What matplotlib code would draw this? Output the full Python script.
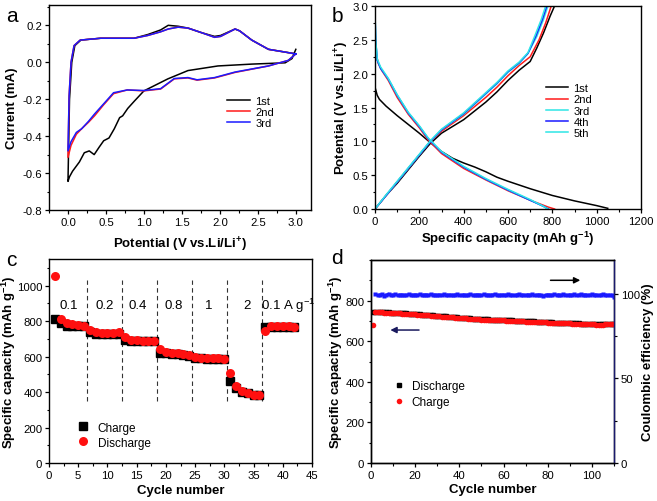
import numpy as np
import matplotlib
matplotlib.use("Agg")
import matplotlib.pyplot as plt
from matplotlib.ticker import MultipleLocator, FormatStrFormatter

plt.rcParams["font.family"] = ["Liberation Sans", "DejaVu Sans"]
plt.rcParams["mathtext.fontset"] = "custom"
plt.rcParams["mathtext.rm"] = "Liberation Sans"
plt.rcParams["mathtext.bf"] = "Liberation Sans:bold"
plt.rcParams["axes.linewidth"] = 1.0

# ---------------- panel a: CV curves ----------------
cv1_down_E = [3.0, 2.95, 2.86, 2.42, 1.975, 1.58, 1.315, 1.0, 0.875, 0.787, 0.72, 0.68, 0.61,
              0.54, 0.47, 0.41, 0.345, 0.28, 0.215, 0.15, 0.06, 0.02, 0.0]
cv1_down_I = [0.07, 0.02, -0.003, -0.01, -0.02, -0.045, -0.09, -0.155, -0.21, -0.25, -0.29, -0.30, -0.36,
              -0.41, -0.425, -0.46, -0.50, -0.48, -0.49, -0.54, -0.59, -0.62, -0.645]
cv1_up_E = [0.0, 0.02, 0.05, 0.09, 0.17, 0.43, 0.87, 1.05, 1.22, 1.32, 1.45, 1.58, 1.76, 1.93,
            2.01, 2.2, 2.26, 2.42, 2.64, 2.86, 3.0]
cv1_up_I = [-0.645, -0.2, 0.0, 0.09, 0.12, 0.13, 0.13, 0.15, 0.175, 0.2, 0.195, 0.185, 0.16, 0.14,
            0.145, 0.18, 0.17, 0.12, 0.07, 0.055, 0.045]

cv2_down_E = [3.0, 2.9, 2.64, 2.2, 1.93, 1.7, 1.58, 1.4, 1.22, 1.0, 0.78, 0.6, 0.47, 0.35, 0.27,
              0.18, 0.11, 0.04, 0.0]
cv2_down_I = [0.045, 0.01, -0.02, -0.055, -0.085, -0.097, -0.085, -0.09, -0.145, -0.155, -0.15,
              -0.17, -0.23, -0.29, -0.325, -0.36, -0.39, -0.45, -0.515]
cv2_up_E = [0.0, 0.015, 0.04, 0.08, 0.16, 0.43, 0.87, 1.05, 1.22, 1.32, 1.45, 1.58, 1.76, 1.93,
            2.01, 2.2, 2.26, 2.42, 2.64, 2.86, 3.0]
cv2_up_I = [-0.515, -0.18, 0.0, 0.09, 0.12, 0.13, 0.13, 0.145, 0.165, 0.18, 0.19, 0.185, 0.16, 0.135,
            0.14, 0.18, 0.17, 0.12, 0.07, 0.055, 0.045]

cv3_down_E = [3.0, 2.9, 2.64, 2.2, 1.93, 1.7, 1.58, 1.4, 1.22, 1.0, 0.78, 0.6, 0.47, 0.35, 0.27,
              0.18, 0.11, 0.04, 0.0]
cv3_down_I = [0.045, 0.01, -0.02, -0.053, -0.083, -0.095, -0.083, -0.088, -0.143, -0.153, -0.15,
              -0.165, -0.225, -0.28, -0.32, -0.36, -0.38, -0.43, -0.48]
cv3_up_E = [0.0, 0.015, 0.04, 0.08, 0.16, 0.43, 0.87, 1.05, 1.22, 1.32, 1.45, 1.58, 1.76, 1.93,
            2.01, 2.2, 2.26, 2.42, 2.64, 2.86, 3.0]
cv3_up_I = [-0.48, -0.18, 0.0, 0.09, 0.12, 0.13, 0.13, 0.145, 0.165, 0.18, 0.19, 0.185, 0.16, 0.135,
            0.14, 0.18, 0.17, 0.12, 0.07, 0.055, 0.045]

# ---------------- panel b: charge/discharge profiles ----------------
gc1_dis_C = [0, 0, 10, 20, 50, 100, 150, 200, 250, 300, 350, 400, 450, 500, 550, 600, 700, 800, 900, 1000, 1050]
gc1_dis_V = [2.05, 1.8, 1.68, 1.62, 1.52, 1.38, 1.25, 1.12, 0.98, 0.85, 0.75, 0.68, 0.62, 0.55, 0.47, 0.41, 0.3, 0.2, 0.12, 0.05, 0.01]
gc1_chg_C = [0, 50, 100, 150, 200, 250, 300, 400, 500, 550, 600, 650, 700, 730, 760, 790, 810]
gc1_chg_V = [0.0, 0.2, 0.38, 0.58, 0.78, 0.97, 1.12, 1.32, 1.58, 1.73, 1.9, 2.05, 2.18, 2.38, 2.6, 2.85, 3.0]

gc2_dis_C = [0, 5, 15, 30, 60, 100, 150, 200, 240, 300, 400, 500, 600, 700, 780, 810]
gc2_dis_V = [2.5, 2.3, 2.15, 2.05, 1.9, 1.65, 1.4, 1.2, 1.02, 0.82, 0.6, 0.43, 0.27, 0.13, 0.03, 0.0]
gc2_chg_C = [0, 50, 100, 150, 200, 250, 300, 400, 500, 550, 600, 650, 700, 740, 770, 795]
gc2_chg_V = [0.0, 0.2, 0.4, 0.6, 0.8, 1.0, 1.15, 1.38, 1.65, 1.8, 1.97, 2.12, 2.25, 2.5, 2.75, 3.0]

gc3_dis_C = [0, 3, 10, 25, 60, 100, 150, 200, 240, 300, 400, 500, 600, 700, 760, 785]
gc3_dis_V = [2.9, 2.5, 2.2, 2.08, 1.92, 1.68, 1.42, 1.22, 1.04, 0.84, 0.62, 0.44, 0.28, 0.13, 0.04, 0.0]
gc3_chg_C = [0, 50, 100, 150, 200, 250, 300, 400, 500, 550, 600, 650, 690, 730, 760, 780]
gc3_chg_V = [0.0, 0.2, 0.4, 0.6, 0.8, 1.0, 1.17, 1.4, 1.7, 1.85, 2.02, 2.15, 2.3, 2.55, 2.8, 3.0]

gc4_dis_C = [0, 3, 10, 25, 60, 100, 150, 200, 240, 300, 400, 500, 600, 700, 760, 780]
gc4_dis_V = [2.9, 2.5, 2.2, 2.08, 1.92, 1.68, 1.42, 1.22, 1.04, 0.84, 0.62, 0.44, 0.28, 0.13, 0.04, 0.0]
gc4_chg_C = [0, 50, 100, 150, 200, 250, 300, 400, 500, 550, 600, 650, 690, 725, 755, 775]
gc4_chg_V = [0.0, 0.2, 0.4, 0.6, 0.8, 1.0, 1.17, 1.41, 1.71, 1.86, 2.03, 2.16, 2.3, 2.55, 2.8, 3.0]

gc5_dis_C = [0, 3, 10, 25, 60, 100, 150, 200, 240, 300, 400, 500, 600, 700, 760, 778]
gc5_dis_V = [2.95, 2.5, 2.22, 2.1, 1.93, 1.69, 1.43, 1.23, 1.05, 0.85, 0.63, 0.45, 0.29, 0.14, 0.04, 0.0]
gc5_chg_C = [0, 50, 100, 150, 200, 250, 300, 400, 500, 550, 600, 650, 690, 720, 750, 770]
gc5_chg_V = [0.0, 0.21, 0.41, 0.61, 0.81, 1.01, 1.18, 1.42, 1.72, 1.87, 2.04, 2.17, 2.31, 2.55, 2.8, 3.0]

# ---------------- panel c: rate capability ----------------
rate_cycles = list(range(1, 43))
rate_charge = [812, 792, 770, 770, 770, 770, 738, 730, 730, 730, 730, 730,
               695, 690, 690, 688, 688, 688, 620, 620, 615, 612, 608, 606,
               592, 590, 588, 588, 586, 585, 462, 422, 403, 392, 385, 382,
               768, 765, 765, 765, 765, 765]
rate_discharge = [1055, 812, 790, 782, 778, 775, 752, 740, 735, 735, 735, 738,
                  712, 695, 692, 690, 690, 690, 645, 625, 620, 620, 612, 610,
                  598, 592, 592, 590, 590, 586, 510, 432, 408, 395, 386, 383,
                  742, 770, 770, 770, 770, 768]
rate_labels = ["0.1", "0.2", "0.4", "0.8", "1", "2", "0.1 A g$^{-1}$"]
rate_label_x = [3.4, 9.6, 15.2, 21.4, 27.4, 33.8, 41.0]
rate_bounds = [6.5, 12.5, 18.5, 24.5, 30.5, 36.5]

# ---------------- panel d: long cycling ----------------
cyc_n = list(range(1, 111))
cyc_charge = [680,
              744, 743, 742, 742, 741, 741, 740, 739, 739,
              738, 738, 737, 736, 736, 735, 734, 733, 733, 732,
              731, 730, 729, 728, 727, 727, 726, 725, 724, 723,
              722, 721, 720, 720, 719, 718, 717, 716, 715, 714,
              713, 712, 712, 711, 710, 709, 708, 708, 707, 706,
              706, 705, 705, 704, 704, 703, 703, 702, 702, 702,
              701, 701, 700, 700, 699, 699, 698, 698, 698, 697,
              697, 697, 696, 696, 695, 695, 694, 694, 693, 692,
              691, 691, 690, 690, 690, 689, 689, 688, 688, 688,
              687, 687, 686, 686, 685, 685, 684, 684, 683, 683,
              683, 682, 682, 682, 682, 683, 683, 684, 684, 684]
cyc_discharge = [742,
                 746, 745, 744, 744, 743, 743, 742, 741, 741,
                 740, 740, 739, 738, 738, 737, 736, 735, 735, 734,
                 733, 732, 731, 730, 729, 729, 728, 727, 726, 725,
                 724, 723, 722, 722, 721, 720, 719, 718, 717, 716,
                 715, 714, 714, 713, 712, 711, 710, 710, 709, 708,
                 708, 707, 707, 706, 706, 705, 705, 704, 704, 704,
                 703, 703, 702, 702, 701, 701, 700, 700, 700, 699,
                 699, 699, 698, 698, 697, 697, 696, 696, 695, 694,
                 693, 693, 692, 692, 692, 691, 691, 690, 690, 690,
                 689, 689, 688, 688, 687, 687, 686, 686, 685, 685,
                 685, 684, 684, 684, 684, 685, 685, 686, 686, 686]
ce_n = list(range(2, 111))
ce_vals = [99.8, 99.2, 99.5, 99.9, 99.0, 99.6, 100.1, 99.3, 99.4,
           99.7, 99.2, 99.5, 99.6, 99.1, 99.4, 99.8, 99.5, 99.3, 99.6,
           99.4, 99.7, 99.2, 99.5, 99.6, 99.3, 99.8, 99.4, 99.5, 99.2,
           99.6, 99.4, 99.7, 99.3, 99.5, 99.6, 99.2, 99.5, 99.7, 99.3,
           99.4, 99.6, 99.2, 99.5, 99.8, 99.4, 99.3, 99.6, 99.5, 99.2,
           99.7, 99.4, 99.5, 99.3, 99.6, 99.8, 99.4, 99.2, 99.5, 99.6,
           99.3, 99.7, 99.4, 99.5, 99.2, 99.6, 99.8, 99.4, 99.5, 99.3,
           99.6, 99.4, 99.7, 99.2, 99.5, 99.6, 99.3, 98.9, 99.4, 99.6,
           99.5, 99.3, 99.7, 99.4, 99.6, 99.2, 99.8, 99.5, 99.3, 99.6,
           99.4, 99.7, 99.2, 99.5, 99.9, 99.4, 99.6, 99.3, 99.5, 99.7,
           99.4, 99.6, 99.2, 99.5, 99.8, 99.4, 99.3, 99.5, 99.1, 98.0]

label_kw = dict(fontsize=9.5, fontweight="bold")
tick_fs = 8.2


def style(ax, right=False):
    ax.tick_params(which="both", direction="out", top=False, right=right, labelsize=tick_fs, pad=1.8)
    ax.tick_params(which="major", length=3, width=0.9)
    ax.tick_params(which="minor", length=1.8, width=0.8)


def place_labels(ax, xy, yx):
    # put axis label centres at given axes-fraction positions
    ax.xaxis.label.set_va("center")
    ax.yaxis.label.set_va("center")
    ax.xaxis.set_label_coords(0.5, xy)
    ax.yaxis.set_label_coords(yx, 0.5)


fig = plt.figure(figsize=(6.57, 5.02), dpi=100)
W, H = 657.0, 502.0


def add_axes(x0, y0, x1, y1):
    return fig.add_axes([x0 / W, 1 - y1 / H, (x1 - x0) / W, (y1 - y0) / H])


# panel a
ax = add_axes(49, 6, 311, 211)
ax.plot(cv1_down_E + cv1_up_E, cv1_down_I + cv1_up_I, color="black", lw=1.1, label="1st")
ax.plot(cv2_down_E + cv2_up_E, cv2_down_I + cv2_up_I, color="#ff1a1a", lw=1.1, label="2nd")
ax.plot(cv3_down_E + cv3_up_E, cv3_down_I + cv3_up_I, color="#1a1aff", lw=1.1, label="3rd")
ax.set_xlim(-0.25, 3.2)
ax.set_ylim(-0.8, 0.31)
ax.xaxis.set_major_locator(MultipleLocator(0.5))
ax.xaxis.set_minor_locator(MultipleLocator(0.25))
ax.yaxis.set_major_locator(MultipleLocator(0.2))
ax.yaxis.set_minor_locator(MultipleLocator(0.1))
ax.xaxis.set_major_formatter(FormatStrFormatter("%.1f"))
ax.yaxis.set_major_formatter(FormatStrFormatter("%.1f"))
style(ax)
ax.set_xlabel("Potential (V vs.Li/Li$^{\\mathbf{+}}$)", **label_kw)
ax.set_ylabel("Current (mA)", **label_kw)
place_labels(ax, -0.165, -0.14)
ax.legend(loc="center left", bbox_to_anchor=(0.68, 0.478), frameon=False, fontsize=8,
          handlelength=2.1, handletextpad=0.45, labelspacing=0.1, borderpad=0, borderaxespad=0)
fig.text(12 / W, 1 - 17 / H, "a", fontsize=15, ha="center", va="center")

# panel b
ax = add_axes(375, 7, 641, 210)
ax.plot(gc1_dis_C, gc1_dis_V, color="black", lw=1.1, label="1st")
ax.plot(gc1_chg_C, gc1_chg_V, color="black", lw=1.1)
ax.plot(gc2_dis_C, gc2_dis_V, color="#ff1a1a", lw=1.1, label="2nd")
ax.plot(gc2_chg_C, gc2_chg_V, color="#ff1a1a", lw=1.1)
ax.plot(gc3_dis_C, gc3_dis_V, color="#2ee6e6", lw=1.1, label="3rd")
ax.plot(gc3_chg_C, gc3_chg_V, color="#2ee6e6", lw=1.1)
ax.plot(gc4_dis_C, gc4_dis_V, color="#1a1aff", lw=1.1, label="4th")
ax.plot(gc4_chg_C, gc4_chg_V, color="#1a1aff", lw=1.1)
ax.plot(gc5_dis_C, gc5_dis_V, color="#2ee6e6", lw=1.1, label="5th")
ax.plot(gc5_chg_C, gc5_chg_V, color="#2ee6e6", lw=1.1)
ax.set_xlim(0, 1200)
ax.set_ylim(0, 3.0)
ax.xaxis.set_major_locator(MultipleLocator(200))
ax.xaxis.set_minor_locator(MultipleLocator(100))
ax.yaxis.set_major_locator(MultipleLocator(0.5))
ax.yaxis.set_minor_locator(MultipleLocator(0.25))
ax.yaxis.set_major_formatter(FormatStrFormatter("%.1f"))
style(ax)
ax.set_xlabel("Specific capacity (mAh g$^{\\mathbf{-1}}$)", **label_kw)
ax.set_ylabel("Potential (V vs.Li/Li$^{\\mathbf{+}}$)", **label_kw)
place_labels(ax, -0.14, -0.125)
ax.legend(loc="center left", bbox_to_anchor=(0.643, 0.485), frameon=False, fontsize=8,
          handlelength=2.0, handletextpad=0.45, labelspacing=0.1, borderpad=0, borderaxespad=0)
fig.text(337 / W, 1 - 16 / H, "b", fontsize=15, ha="center", va="center")

# panel c
ax = add_axes(49, 260, 312, 464)
ax.plot(rate_cycles, rate_charge, "s", color="black", ms=5.5, label="Charge", zorder=3)
ax.plot(rate_cycles, rate_discharge, "o", color="#ff1010", ms=6.5, mec="none", label="Discharge", zorder=4)
for b in rate_bounds:
    ax.plot([b, b], [350, 1030], ls=(0, (4, 3)), color="#333333", lw=0.8, zorder=2)
for t, x in zip(rate_labels, rate_label_x):
    ax.text(x, 890, t, ha="center", va="center", fontsize=9.5)
ax.set_xlim(0, 45)
ax.set_ylim(0, 1150)
ax.xaxis.set_major_locator(MultipleLocator(5))
ax.xaxis.set_minor_locator(MultipleLocator(2.5))
ax.yaxis.set_major_locator(MultipleLocator(200))
ax.yaxis.set_minor_locator(MultipleLocator(100))
style(ax)
ax.set_xlabel("Cycle number", **label_kw)
ax.set_ylabel("Specific capacity (mAh g$^{\\mathbf{-1}}$)", **label_kw)
place_labels(ax, -0.13, -0.152)
ax.legend(loc="center left", bbox_to_anchor=(0.105, 0.137), frameon=False, fontsize=8.5,
          handlelength=1.0, handletextpad=0.8, labelspacing=0.25, borderpad=0, borderaxespad=0)
fig.text(11 / W, 1 - 260 / H, "c", fontsize=15, ha="center", va="center")

# panel d
ax = add_axes(371, 261, 614, 464)
ax2 = ax.twinx()
ax.plot(cyc_n, cyc_discharge, "s", color="black", ms=3.2, label="Discharge", zorder=3)
ax.plot(cyc_n, cyc_charge, "o", color="#ff1010", ms=4.0, mec="none", label="Charge", zorder=4)
ax2.plot(ce_n, ce_vals, "s-", color="#1a1aff", ms=3.5, lw=1.5, mec="none")
ax.set_xlim(0, 110)
ax.set_ylim(0, 1000)
ax2.set_ylim(0, 120)
ax.xaxis.set_major_locator(MultipleLocator(20))
ax.xaxis.set_minor_locator(MultipleLocator(10))
ax.yaxis.set_minor_locator(MultipleLocator(100))
ax.set_yticks([0, 200, 400, 600, 800])
ax2.yaxis.set_major_locator(MultipleLocator(50))
ax2.yaxis.set_minor_locator(MultipleLocator(25))
style(ax)
style(ax2, right=True)
ax2.spines["right"].set_color("#1a1a6e")
ax.set_xlabel("Cycle number", **label_kw)
ax.set_ylabel("Specific capacity (mAh g$^{\\mathbf{-1}}$)", **label_kw)
place_labels(ax, -0.13, -0.145)
ax2.set_ylabel("Coulombic efficiency (%)", **label_kw)
ax2.yaxis.label.set_va("center")
ax2.yaxis.set_label_coords(1.14, 0.5)
ax.annotate("", xy=(96, 1000 * 108 / 120), xytext=(80, 1000 * 108 / 120),
            arrowprops=dict(arrowstyle="-|>", color="black", lw=1.1, mutation_scale=9))
ax.annotate("", xy=(7.5, 655), xytext=(23, 655),
            arrowprops=dict(arrowstyle="-|>", color="#1a1a5e", lw=1.1, mutation_scale=9))
ax.legend(loc="center left", bbox_to_anchor=(0.09, 0.34), frameon=False, fontsize=8.5,
          handlelength=1.0, handletextpad=0.6, labelspacing=0.35, borderpad=0, borderaxespad=0)
fig.text(337 / W, 1 - 258 / H, "d", fontsize=15, ha="center", va="center")

fig.savefig("out.png", dpi=100)
